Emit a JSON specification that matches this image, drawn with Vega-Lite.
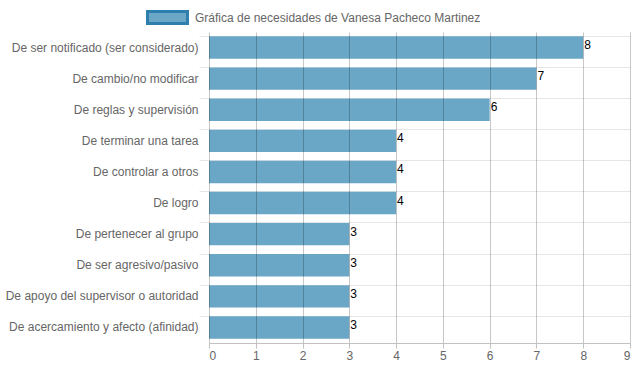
{
  "$schema": "https://vega.github.io/schema/vega-lite/v6.json",
  "width": 421,
  "height": 311,
  "autosize": "none",
  "padding": {"left": 209, "top": 32, "right": 7, "bottom": 28},
  "config": {"font": "Liberation Sans", "view": {"stroke": null}},
  "data": {
    "values": [
      {"necesidad": "De ser notificado (ser considerado)", "valor": 8, "serie": "Gráfica de necesidades de Vanesa Pacheco Martinez"},
      {"necesidad": "De cambio/no modificar", "valor": 7, "serie": "Gráfica de necesidades de Vanesa Pacheco Martinez"},
      {"necesidad": "De reglas y supervisión", "valor": 6, "serie": "Gráfica de necesidades de Vanesa Pacheco Martinez"},
      {"necesidad": "De terminar una tarea", "valor": 4, "serie": "Gráfica de necesidades de Vanesa Pacheco Martinez"},
      {"necesidad": "De controlar a otros", "valor": 4, "serie": "Gráfica de necesidades de Vanesa Pacheco Martinez"},
      {"necesidad": "De logro", "valor": 4, "serie": "Gráfica de necesidades de Vanesa Pacheco Martinez"},
      {"necesidad": "De pertenecer al grupo", "valor": 3, "serie": "Gráfica de necesidades de Vanesa Pacheco Martinez"},
      {"necesidad": "De ser agresivo/pasivo", "valor": 3, "serie": "Gráfica de necesidades de Vanesa Pacheco Martinez"},
      {"necesidad": "De apoyo del supervisor o autoridad", "valor": 3, "serie": "Gráfica de necesidades de Vanesa Pacheco Martinez"},
      {"necesidad": "De acercamiento y afecto (afinidad)", "valor": 3, "serie": "Gráfica de necesidades de Vanesa Pacheco Martinez"}
    ]
  },
  "encoding": {
    "y": {
      "field": "necesidad",
      "type": "nominal",
      "sort": null,
      "scale": {"paddingInner": 0.28, "paddingOuter": 0.14},
      "axis": {
        "title": null,
        "bandPosition": 0,
        "tickSize": 10,
        "tickColor": "#e6e6e6",
        "gridColor": "#e6e6e6",
        "grid": true,
        "domain": false,
        "labelColor": "#666666",
        "labelFontSize": 12,
        "labelPadding": 1,
        "labelLimit": 300
      }
    },
    "x": {
      "field": "valor",
      "type": "quantitative",
      "scale": {"domain": [0, 9], "nice": false},
      "axis": {
        "title": null,
        "zindex": 1,
        "values": [0, 1, 2, 3, 4, 5, 6, 7, 8, 9],
        "grid": true,
        "gridColor": "#000000",
        "gridOpacity": 0.22,
        "domainColor": "#c2c2c2",
        "tickColor": "#c2c2c2",
        "tickSize": 5,
        "labelColor": "#666666",
        "labelFontSize": 12,
        "labelPadding": 2
      }
    }
  },
  "layer": [
    {
      "mark": {"type": "bar"},
      "encoding": {
        "color": {
          "field": "serie",
          "type": "nominal",
          "scale": {"range": ["#6aa6c6"]},
          "legend": {
            "title": null,
            "orient": "none",
            "legendX": -53,
            "legendY": -26,
            "symbolType": "M-2,-0.6H2V0.6H-2Z",
            "symbolSize": 400,
            "symbolStrokeColor": "#2e7fae",
            "symbolStrokeWidth": 3,
            "symbolOpacity": 1,
            "labelFontSize": 12,
            "labelColor": "#666666",
            "labelLimit": 400,
            "labelOffset": 16,
            "encode": {
              "symbols": {
                "update": {
                  "stroke": {"value": "#2e7fae"},
                  "strokeWidth": {"value": 3}
                }
              }
            }
          }
        }
      }
    },
    {
      "mark": {"type": "text", "align": "left", "baseline": "middle", "dx": 1, "dy": -2.5, "fontSize": 12, "color": "#000000"},
      "encoding": {
        "text": {"field": "valor", "type": "quantitative"}
      }
    }
  ]
}
